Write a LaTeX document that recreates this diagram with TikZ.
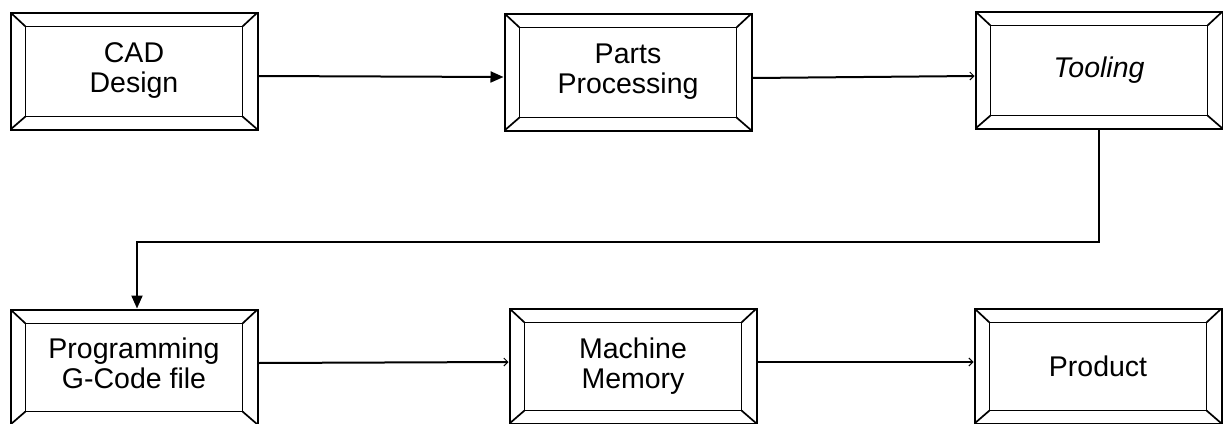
\documentclass[tikz,border=0pt]{standalone}
\usepackage{fontspec}
\setmainfont{Liberation Sans}
\usetikzlibrary{arrows.meta}
\begin{document}
\begin{tikzpicture}[x=1pt,y=-1pt,
  bev/.style={line width=1.7pt},
  bevel/.style={draw, line width=2pt, minimum width=247pt, minimum height=#1,
    inner sep=0pt, align=center, font=\fontsize{28.5}{30}\selectfont,
    path picture={
      \draw[bev] ([shift={(15pt,-14pt)}]path picture bounding box.north west)
        rectangle ([shift={(-15pt,13pt)}]path picture bounding box.south east);
      \draw[bev] (path picture bounding box.north west) -- ++(15pt,-14pt);
      \draw[bev] (path picture bounding box.north east) -- ++(-15pt,-14pt);
      \draw[bev] (path picture bounding box.south west) -- ++(15pt,13pt);
      \draw[bev] (path picture bounding box.south east) -- ++(-15pt,13pt);
    }},
  bevel/.default=117pt,
  conn/.style={line width=2pt},
  bigtip/.style={conn, -{Triangle[length=13pt,width=11pt]}},
  smalltip/.style={conn, -{Straight Barb[length=4pt,width=8pt,line width=1pt]}}
]
\useasboundingbox (0,0) rectangle (1223,423);

\node[bevel] (cad) at (134,71) {CAD\\Design};
\node[bevel] (parts) at (628,72) {Parts\\Processing};
\node[bevel] (tool) at (1099,70) {\textit{Tooling}};

\node[bevel=115pt] (prog) at (134,367)
  {\raisebox{-10pt}{\begin{tabular}{@{}c@{}}Programming\\G-Code file\end{tabular}}};
\node[bevel=115pt] (mem) at (633,366) {Machine\\Memory};
\node[bevel=115pt] (prod) at (1098,366) {Product};

\coordinate (elbow) at (600,242);

\draw[bigtip] ([yshift=-5pt]cad.east) -- ([yshift=-5pt]parts.west);
\draw[smalltip] ([yshift=-6pt]parts.east) -- ([yshift=-6pt]tool.west);
\draw[bigtip] (tool.south) |- (elbow) -| ([xshift=3pt]prog.north);
\draw[smalltip] ([yshift=4pt]prog.east) -- ([yshift=4pt]mem.west);
\draw[smalltip] ([yshift=4pt]mem.east) -- ([yshift=4pt]prod.west);
\end{tikzpicture}
\end{document}
